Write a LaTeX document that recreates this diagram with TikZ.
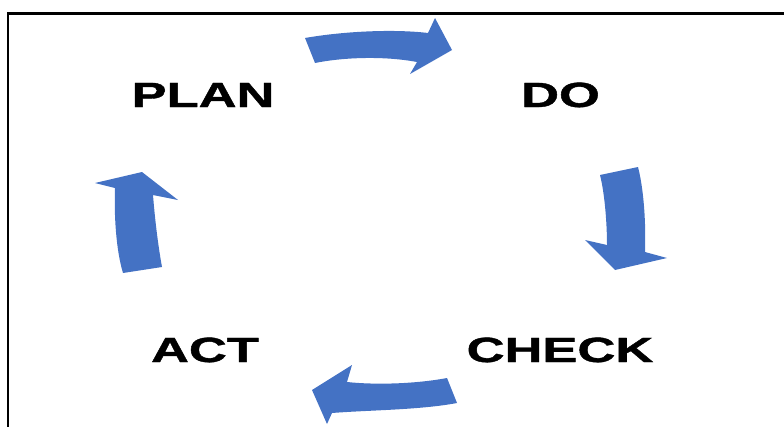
\documentclass[tikz,border=0pt]{standalone}
\usepackage{fontspec}
\usepackage{graphicx}
\newfontfamily\labfont[FakeBold=1]{Liberation Sans Bold}
\definecolor{arrowblue}{HTML}{4472C4}
\tikzset{
  label text/.style={anchor=base, inner sep=0pt, font=\labfont\fontsize{35}{42}\selectfont},
  cyclearrow/.style={fill=arrowblue, draw=none},
  frameline/.style={draw=black, line width=2.5pt}
}
\newcommand{\stretchtxt}[1]{\scalebox{1.5}[1]{#1}}
\begin{document}
\begin{tikzpicture}[x=1pt,y=-1pt]
\useasboundingbox (0,0) rectangle (784,426);
% frame (right and bottom sides lie outside the picture)
\draw[frameline] (8,440) -- (8,13.5) -- (800,13.5);
% labels
\node[label text] (plan) at (203,107) {\stretchtxt{PLAN}};
\node[label text] (do) at (560.5,107) {\stretchtxt{DO}};
\node[label text] (check) at (560,362) {\stretchtxt{CHECK}};
\node[label text] (act) at (205,362) {\stretchtxt{ACT}};
% top arrow (plan -> do)
\path[cyclearrow] (305,38) .. controls (345,31) and (395,29) .. (428,33) -- (435,18) -- (452,50) -- (410,74) -- (417,62) .. controls (385,56) and (345,57) .. (315,63) -- cycle;
% right arrow (do -> check)
\path[cyclearrow] (600,175) .. controls (605,195) and (607,225) .. (607,245) -- (585,240) -- (615,270) -- (667,258) -- (645,252) .. controls (646,225) and (644,190) .. (638,167) -- cycle;
% bottom arrow (check -> act)
\path[cyclearrow] (447,378) .. controls (415,384) and (375,385) .. (347,382) -- (352,365) -- (312,390) -- (327,424) -- (332,413) .. controls (370,410) and (420,410) .. (457,403) -- cycle;
% left arrow (act -> plan)
\path[cyclearrow] (123,273) .. controls (116,250) and (114,215) .. (115,188) -- (95,183) -- (142,172) -- (178,200) -- (153,195) .. controls (155,220) and (158,245) .. (162,267) -- cycle;
\end{tikzpicture}
\end{document}
